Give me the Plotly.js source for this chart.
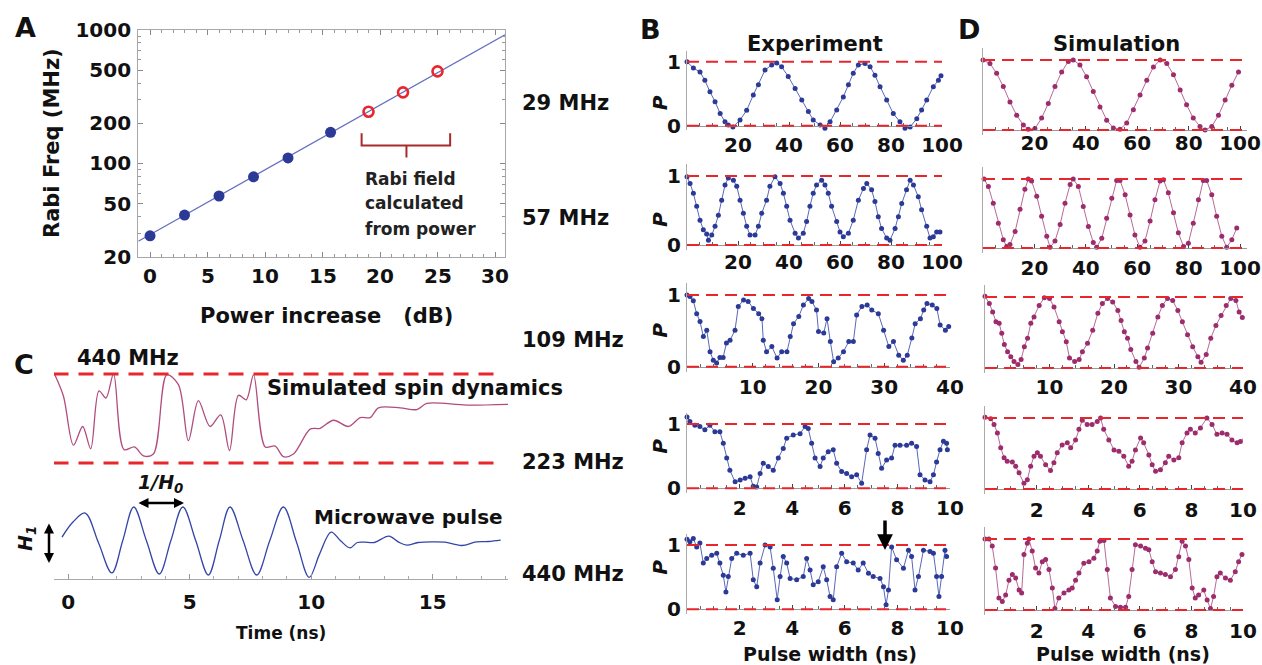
<!DOCTYPE html>
<html><head><meta charset="utf-8">
<script src="https://cdn.plot.ly/plotly-3.0.1.min.js"></script>
<style>html,body{margin:0;padding:0;background:#fff;}#chart{width:1262px;height:665px;}</style>
</head><body><div id="chart"></div>
<script>
// ---------- Panel A data ----------
const measPower = [0, 3, 6, 9, 12, 15.7];
const measRabi = [28.7, 41, 57, 79.4, 110, 171];
const calcPower = [19, 22, 25];
const calcRabi = [244, 341, 490];
const fitPower = [-1.02, 30.87];
const fitRabi = [26.1, 922];
const bracePower = [18.4, 18.4, 22.3, 22.3, 22.3, 26.1, 26.1];
const braceRabi = [168, 136, 136, 111, 136, 136, 168];
const aXTicks = [0, 5, 10, 15, 20, 25, 30];
const aYTicks = [20, 50, 100, 200, 500, 1000];
const aYMinor = [30, 40, 60, 70, 80, 90, 300, 400, 600, 700, 800, 900];
const rabiLabels = ['29 MHz', '57 MHz', '109 MHz', '223 MHz', '440 MHz'];

// ---------- Panel C data ----------
const spinT = [-0.56,-0.19,0.22,0.6,0.93,1.27,1.56,1.87,2.3,2.73,3.1,3.51,4.06,4.54,4.95,5.36,5.84,6.28,6.64,7.01,7.33,7.63,8.11,8.52,8.86,9.27,9.96,10.37,10.92,11.54,12.02,12.43,12.77,13.66,14.35,14.76,16.4,18.19];
const spinP = [1.0,0.75,0.2,0.41,0.16,0.81,0.73,1.0,0.15,0.18,0.08,0.1,0.99,0.88,0.25,0.70,0.41,0.54,0.14,0.76,0.71,0.99,0.18,0.19,0.07,0.1,0.38,0.39,0.48,0.41,0.51,0.51,0.62,0.62,0.6,0.67,0.65,0.66];
const pulseT = [-0.25,0.2,0.7,1.25,1.8,2.25,2.7,3.22,3.75,4.23,4.72,5.25,5.77,6.22,6.66,7.2,7.76,8.3,8.86,9.4,9.92,10.35,10.82,11.2,11.6,11.9,12.2,12.6,13.2,13.6,13.94,14.4,15.0,15.5,16.2,16.8,17.3,17.8];
const pulseA = [0.1,0.55,0.82,-0.07,-0.97,0,1,0,-1,0,1,0,-1.03,0,1,0,-1.03,0,1,-0.05,-1.1,-0.4,0.25,0,-0.22,-0.06,-0.05,-0.06,0.13,-0.05,-0.14,-0.06,-0.04,-0.05,-0.15,-0.04,-0.03,0.01];
const cTicks = [0, 5, 10, 15];

// ---------- Panel B (experiment) data ----------
const expX1 = [0,2.5,5.1,7,9,11,13,14.9,16.2,18,20.8,23.4,26,28,30.6,33.2,35.2,37.1,39.7,42.4,45,47.6,49.5,52.2,54.1,56.1,58.7,61.3,63.3,65.2,67.2,69.8,71.8,73.7,75.7,78.3,80.9,83.5,85.5,87.5,90.1,92,94,96.6,98.6,99.6];
const expP1 = [1.0,0.9,0.84,0.71,0.53,0.375,0.19,0.06,0.01,-0.02,0.09,0.24,0.48,0.64,0.87,0.95,0.98,0.92,0.77,0.58,0.4,0.22,0.09,0.01,-0.04,0.06,0.245,0.45,0.64,0.82,0.95,0.97,0.92,0.79,0.61,0.4,0.19,0.06,-0.04,-0.02,0.11,0.245,0.4,0.61,0.71,0.78];
const expX2 = [0,1.2,2.5,3.8,5.1,6.4,7.7,8.4,9.7,11,12.3,13.6,14.9,16.2,18.2,19.5,20.8,22.1,23.4,24.7,26.7,28,29.3,31.2,32.5,34.5,36.5,37.8,39.1,40.4,42.4,43.7,45.6,46.9,48.2,49.5,50.8,52.8,54.1,55.4,56.7,58.7,60,61.3,63.3,65.2,67.2,69.2,70.5,72.4,73.7,75,76.3,78.3,79.6,81.6,82.9,84.2,86.1,87.5,88.8,90.7,92,94,95.3,96.6,97.9,99.2];
const expP2 = [0.99,0.89,0.75,0.56,0.36,0.22,0.16,0.07,0.145,0.27,0.43,0.65,0.87,0.97,0.94,0.85,0.65,0.46,0.27,0.145,0.145,0.27,0.46,0.65,0.85,0.99,0.89,0.75,0.56,0.36,0.17,0.1,0.17,0.34,0.56,0.75,0.87,0.94,0.87,0.75,0.56,0.34,0.19,0.12,0.17,0.36,0.65,0.82,0.89,0.8,0.63,0.41,0.24,0.1,0.07,0.24,0.41,0.6,0.8,0.94,0.87,0.7,0.51,0.27,0.1,0.12,0.19,0.19];
const expX3 = [0,0.46,0.96,1.47,1.98,2.49,3.0,3.5,4.0,4.5,5.0,5.5,6.0,6.55,7.3,7.8,8.6,9.3,10.1,10.9,11.4,11.6,12.1,12.9,13.7,14.4,15.2,15.7,16.2,17,17.7,18.5,19,19.7,20,20.8,21.3,21.8,22.3,23,23.8,24.6,25.3,25.8,26.6,27.4,28.1,29.1,29.9,30.7,31.4,32.2,32.9,33.5,34.2,34.7,35.5,36,36.5,37.3,38,38.5,39.3,39.8];
const expP3 = [1.0,0.98,0.92,0.74,0.63,0.42,0.51,0.21,0.09,0.05,0.13,0.13,0.33,0.37,0.51,0.84,0.93,0.91,0.81,0.74,0.67,0.37,0.21,0.28,0.12,0.21,0.21,0.42,0.6,0.7,0.86,0.95,0.91,0.79,0.49,0.47,0.67,0.35,0.07,0.12,0.21,0.35,0.35,0.72,0.84,0.86,0.79,0.74,0.51,0.28,0.35,0.16,0.09,0.16,0.4,0.6,0.67,0.79,0.88,0.86,0.81,0.58,0.51,0.56];
const expX4 = [0,0.11,0.3,0.49,0.68,0.87,1.06,1.25,1.38,1.51,1.63,1.83,2.02,2.21,2.4,2.52,2.65,2.78,2.9,3.09,3.28,3.47,3.66,3.79,4.04,4.3,4.49,4.61,4.74,4.87,5.06,5.18,5.37,5.56,5.69,5.88,6.07,6.26,6.45,6.64,6.83,6.96,7.15,7.27,7.4,7.59,7.78,7.91,8.1,8.35,8.54,8.73,8.86,9.05,9.24,9.37,9.49,9.62,9.75,9.87,9.9];
const expP4 = [1.11,1.04,0.98,0.96,0.91,0.98,0.88,0.88,0.7,0.47,0.28,0.1,0.13,0.155,0.18,0.03,0.02,0.23,0.39,0.34,0.28,0.47,0.62,0.78,0.83,0.85,0.96,0.93,0.7,0.47,0.34,0.47,0.57,0.6,0.39,0.26,0.23,0.18,0.21,0.08,0.6,0.83,0.78,0.54,0.31,0.44,0.47,0.67,0.67,0.67,0.7,0.65,0.21,0.13,0.1,0.21,0.41,0.6,0.73,0.7,0.6];
const expX5 = [0,0.11,0.24,0.37,0.49,0.62,0.75,0.94,1.13,1.25,1.38,1.48,1.57,1.7,1.89,2.14,2.4,2.52,2.65,2.78,2.97,3.16,3.28,3.43,3.54,3.66,3.79,3.92,4.17,4.42,4.55,4.68,4.8,4.99,5.18,5.31,5.44,5.56,5.69,5.88,6.07,6.32,6.51,6.7,6.9,7.08,7.34,7.47,7.57,7.66,7.78,7.97,8.23,8.42,8.54,8.67,8.8,8.99,9.24,9.37,9.49,9.58,9.68,9.81,9.87];
const expP5 = [1.09,1.05,1.1,0.97,1.03,0.72,0.79,0.84,0.87,0.72,0.53,0.27,0.51,0.79,0.87,0.84,0.87,0.46,0.35,0.72,1.0,0.97,0.64,0.15,0.51,0.82,0.72,0.48,0.46,0.51,0.79,0.61,0.38,0.43,0.66,0.46,0.2,0.15,0.66,0.87,0.74,0.72,0.61,0.72,0.56,0.51,0.48,0.35,0.07,0.3,0.97,0.77,0.64,0.92,0.82,0.3,0.51,0.92,0.9,0.87,0.51,0.2,0.51,0.92,0.82];

// ---------- Panel D (simulation) data ----------
const simX1 = [0,2.7,5.3,7.9,10.5,13.1,15.7,17.6,20.2,22.8,25.4,28,30.6,33.2,35.1,37.7,40.3,42.9,45.5,48.1,50.7,53.3,55.9,58.5,61.1,63.7,66.3,68.9,71.5,74.1,76.7,79.2,81.8,84.4,86.4,89,91.6,94.2,96.8,99.4];
const simP1 = [1.0,0.95,0.81,0.62,0.4,0.21,0.07,0.01,0.02,0.17,0.38,0.62,0.83,0.98,1.0,0.93,0.76,0.55,0.33,0.14,0.03,0.01,0.1,0.29,0.5,0.71,0.9,1.0,0.95,0.79,0.57,0.36,0.17,0.05,0.0,0.05,0.21,0.43,0.64,0.83];
const simX2 = [0.4,2.1,4,5.97,7.9,9.2,10.5,12.5,14.4,16.3,17.6,18.9,20.9,22.8,24.8,26.1,28,30,31.9,33.9,35.1,37.1,39,41,42.9,44.2,46.2,48.1,50.1,52,53.3,55.3,57.2,59.1,61.1,63,65,66.9,68.9,70.2,72.1,74.1,76,78,79.9,81.8,83.8,85.7,87,89,90.9,92.9,94.8,96.8,98.7];
const simP2 = [1.0,0.89,0.65,0.36,0.12,0.02,0.05,0.24,0.56,0.85,1.0,0.97,0.75,0.46,0.17,0.01,0.1,0.34,0.65,0.92,1.0,0.89,0.6,0.31,0.08,0.01,0.14,0.43,0.72,0.98,0.98,0.77,0.48,0.19,0.01,0.1,0.39,0.7,0.97,0.99,0.8,0.51,0.22,0.02,0.07,0.36,0.7,0.98,0.98,0.77,0.46,0.17,0.01,0.12,0.29];
const simX3 = [0,0.67,1.19,1.7,2.2,2.6,3.0,3.5,4.0,4.5,5.1,5.6,6.1,6.6,7.1,7.6,8.4,9.2,10,10.7,11.5,12,12.6,13.1,13.9,14.6,15.1,15.9,16.7,17.5,18.2,19,19.8,20.6,21.1,21.6,22.1,22.6,23.4,23.9,24.7,25.2,26,26.8,27.5,28.3,29.1,29.9,30.6,31.4,32.2,33,33.5,34.3,35,35.8,36.6,37.4,38.1,38.9,39.4,39.9];
const simP3 = [1.01,0.91,0.79,0.65,0.63,0.49,0.33,0.23,0.16,0.09,0.05,0.12,0.3,0.42,0.63,0.72,0.88,0.99,0.98,0.86,0.65,0.51,0.37,0.14,0.09,0.12,0.23,0.35,0.53,0.77,0.91,0.98,0.93,0.81,0.67,0.51,0.42,0.26,0.09,0.01,0.14,0.28,0.49,0.72,0.88,0.98,0.95,0.81,0.65,0.47,0.3,0.16,0.08,0.19,0.42,0.6,0.74,0.88,0.98,0.95,0.79,0.71];
const simX4 = [0,0.22,0.35,0.48,0.61,0.74,0.86,1.06,1.19,1.32,1.51,1.64,1.77,1.9,2.03,2.15,2.35,2.54,2.67,2.8,2.99,3.19,3.32,3.51,3.64,3.77,3.96,4.15,4.35,4.48,4.6,4.8,5.0,5.19,5.38,5.57,5.7,5.83,6.03,6.15,6.35,6.48,6.61,6.8,6.99,7.12,7.32,7.51,7.64,7.83,7.96,8.15,8.35,8.6,8.8,8.99,9.19,9.38,9.57,9.77,9.9,10.03];
const simP4 = [1.01,0.99,0.91,0.79,0.58,0.44,0.39,0.38,0.32,0.23,0.08,0.13,0.32,0.46,0.51,0.46,0.34,0.26,0.37,0.51,0.62,0.65,0.58,0.69,0.84,0.97,0.91,0.91,0.95,1.0,0.84,0.69,0.55,0.53,0.46,0.32,0.39,0.55,0.72,0.65,0.48,0.34,0.25,0.27,0.37,0.46,0.41,0.44,0.65,0.79,0.84,0.79,0.86,1.0,0.91,0.77,0.79,0.77,0.69,0.65,0.67,0.72];
const simX5 = [0,0.15,0.28,0.41,0.54,0.67,0.8,0.93,1.06,1.19,1.32,1.42,1.51,1.64,1.7,1.83,1.96,2.09,2.22,2.35,2.48,2.61,2.71,2.86,3.06,3.25,3.38,3.51,3.64,3.83,4.03,4.22,4.35,4.45,4.61,4.74,4.86,5.06,5.25,5.45,5.57,5.7,5.83,6.03,6.22,6.35,6.48,6.61,6.8,6.99,7.19,7.38,7.51,7.64,7.77,7.9,8.03,8.15,8.28,8.48,8.61,8.74,8.86,8.99,9.12,9.32,9.51,9.7,9.83,9.96];
const simP5 = [1.0,1.0,0.9,0.59,0.17,0.12,0.21,0.42,0.5,0.45,0.28,0.24,0.78,0.94,1.0,0.83,0.59,0.52,0.68,0.71,0.57,0.31,0.02,0.17,0.24,0.28,0.31,0.42,0.52,0.66,0.68,0.73,0.83,0.97,0.98,0.57,0.17,0.05,0.04,0.04,0.19,0.57,0.92,0.9,0.87,0.85,0.68,0.54,0.52,0.5,0.47,0.57,0.75,0.97,0.9,0.71,0.31,0.17,0.21,0.28,0.14,0.02,0.19,0.47,0.52,0.45,0.42,0.54,0.68,0.78];
const refLevels = [0, 1];
const ticks100 = [20, 40, 60, 80, 100];
const ticks40 = [10, 20, 30, 40];
const ticks10 = [2, 4, 6, 8, 10];

// ---------- layout helpers ----------
const W = 1262, H = 665;
const fx = px => px / W;
const fy = py => 1 - py / H;
const F = 'DejaVu Sans, Arial, sans-serif';
const tf = (size, extra) => Object.assign({family: F, size: size, color: '#111', weight: 'bold'}, extra || {});

const BLUE = '#2b3a96', BLUE_L = '#5a67b8';
const MAG = '#9c2c6c', MAG_L = '#b86a95';
const RED = '#e8262c';

const traces = [];
const layout = {
  width: W, height: H, margin: {l: 0, r: 0, t: 0, b: 0, pad: 0},
  paper_bgcolor: '#fff', plot_bgcolor: 'rgba(0,0,0,0)', showlegend: false,
  font: {family: F}, annotations: [], shapes: []
};

// ---------- Panel A ----------
layout.xaxis = {
  domain: [fx(138.3), fx(505)], range: [-1.02, 30.87], anchor: 'y',
  showline: true, mirror: 'ticks', linecolor: '#a8a8a8', linewidth: 1.2,
  ticks: 'inside', ticklen: 5, tickcolor: '#888', tickvals: aXTicks, showticklabels: false,
  minor: {ticks: 'inside', ticklen: 3, dtick: 1, tick0: 0, tickcolor: '#999'},
  showgrid: false, zeroline: false
};
layout.yaxis = {
  domain: [fy(256.7), fy(30)], type: 'log', range: [Math.log10(20), 3], anchor: 'x',
  showline: true, mirror: 'ticks', linecolor: '#a8a8a8', linewidth: 1.2,
  ticks: 'inside', ticklen: 5, tickcolor: '#888',
  tickvals: aYTicks, ticktext: aYTicks.map(String), tickfont: tf(20), ticklabelstandoff: 2,
  minor: {ticks: 'inside', ticklen: 3, tickvals: aYMinor, tickcolor: '#999'},
  showgrid: false, zeroline: false
};
// x tick labels of panel A, placed on the x data scale
aXTicks.forEach(v => layout.annotations.push({text: String(v), x: v, xref: 'x', y: fy(276), yref: 'paper',
  showarrow: false, xanchor: 'center', yanchor: 'middle', font: tf(20)}));
traces.push({type: 'scatter', mode: 'lines', x: fitPower, y: fitRabi, xaxis: 'x', yaxis: 'y',
  line: {color: '#6470c4', width: 1.3}, hoverinfo: 'skip'});
traces.push({type: 'scatter', mode: 'markers', x: measPower, y: measRabi, xaxis: 'x', yaxis: 'y',
  marker: {size: 11, color: BLUE}});
traces.push({type: 'scatter', mode: 'markers', x: calcPower, y: calcRabi, xaxis: 'x', yaxis: 'y',
  marker: {size: 10, symbol: 'circle-open', color: RED, line: {width: 2.6, color: RED}}});
traces.push({type: 'scatter', mode: 'lines', x: bracePower, y: braceRabi, xaxis: 'x', yaxis: 'y',
  line: {color: '#a92a2a', width: 2}, hoverinfo: 'skip'});

// ---------- Panel C ----------
layout.xaxis2 = {
  domain: [fx(54), fx(508)], range: [-0.58, 18.1], anchor: 'y2',
  showline: true, linecolor: '#a8a8a8', linewidth: 1.2,
  ticks: 'inside', ticklen: 5, tickcolor: '#999', tickvals: cTicks,
  tickfont: tf(20), ticklabelstandoff: 5,
  minor: {ticks: 'inside', ticklen: 3, dtick: 1, tick0: 0, tickcolor: '#aaa'},
  showgrid: false, zeroline: false
};
layout.yaxis2 = {domain: [fy(579), fy(495)], range: [-1.15, 1.358], anchor: 'x2',
  showline: false, showticklabels: false, ticks: '', showgrid: false, zeroline: false};
layout.yaxis3 = {domain: [fy(470), fy(360)], range: [-0.079, 1.157], anchor: 'x2',
  showline: false, showticklabels: false, ticks: '', showgrid: false, zeroline: false};
refLevels.forEach(l => layout.shapes.push({type: 'line', xref: 'x2', yref: 'y3',
  x0: -0.6, x1: 17.9, y0: l, y1: l, line: {color: RED, width: 3, dash: '15px,10px'}}));
traces.push({type: 'scatter', mode: 'lines', x: spinT, y: spinP, xaxis: 'x2', yaxis: 'y3',
  line: {color: '#b04d7d', width: 1.3, shape: 'spline', smoothing: 0.9}, cliponaxis: false});
traces.push({type: 'scatter', mode: 'lines', x: pulseT, y: pulseA, xaxis: 'x2', yaxis: 'y2',
  line: {color: '#3444a8', width: 1.3, shape: 'spline', smoothing: 1}});

// ---------- small P panels ----------
function addPanel(n, box, xs, ys, mc, lc, tickvals, minorDt, showY) {
  const yr = [-0.07, 1.17];
  const unit = box.p0 - box.p1;
  const topPx = box.p1 - (yr[1] - 1) * unit;
  const botPx = box.p0 + (0 - yr[0]) * unit;
  layout['xaxis' + n] = {
    domain: [fx(box.xl), fx(box.xr)], range: box.range, anchor: 'free', position: fy(box.p0),
    showline: true, linecolor: '#999', linewidth: 1, ticks: 'inside', ticklen: 4, tickcolor: '#444',
    tickvals: tickvals, ticktext: tickvals.map(String), tickfont: tf(20), ticklabelstandoff: box.so,
    minor: {ticks: 'inside', ticklen: 3, dtick: minorDt, tick0: 0, tickcolor: '#666'},
    showgrid: false, zeroline: false
  };
  layout['yaxis' + n] = {
    domain: [fy(botPx), fy(topPx)], range: yr, anchor: 'x' + n,
    showline: true, linecolor: '#aaa', linewidth: 1, ticks: '',
    tickvals: showY ? refLevels : [], ticktext: showY ? refLevels.map(String) : [],
    showticklabels: !!showY, tickfont: tf(20), ticklabelstandoff: 1,
    showgrid: false, zeroline: false
  };
  refLevels.forEach(l => layout.shapes.push({type: 'line', xref: 'x' + n, yref: 'y' + n,
    x0: box.range[0], x1: box.range[1], y0: l, y1: l, line: {color: RED, width: 2, dash: '12px,7px'}}));
  traces.push({type: 'scatter', mode: 'lines+markers', x: xs, y: ys, xaxis: 'x' + n, yaxis: 'y' + n,
    marker: {size: 5, color: mc}, line: {color: lc, width: 1}, cliponaxis: false});
  if (showY) {
    layout.annotations.push({text: '<i>P</i>', x: fx(660), y: fy((box.p0 + box.p1) / 2),
      xref: 'paper', yref: 'paper', showarrow: false, textangle: -90, font: tf(20)});
  }
}
const expBoxes = [
  {xl: 687, xr: 942, range: [0, 100], p0: 125.7, p1: 61.7, so: 1},
  {xl: 687, xr: 942, range: [0, 100], p0: 245, p1: 176, so: -1},
  {xl: 687, xr: 950, range: [0, 40], p0: 366.7, p1: 295, so: 2},
  {xl: 687, xr: 950, range: [0, 10], p0: 488.3, p1: 424, so: 2},
  {xl: 687, xr: 950, range: [0, 10], p0: 609.3, p1: 545, so: 1}
];
const simBoxes = [
  {xl: 983, xr: 1247, range: [0, 102.7], p0: 130, p1: 60, so: -5},
  {xl: 983, xr: 1247, range: [0, 102.7], p0: 248, p1: 179, so: 2},
  {xl: 985, xr: 1243, range: [0, 40], p0: 368, p1: 297, so: 1},
  {xl: 985, xr: 1243, range: [0, 10], p0: 489, p1: 418, so: 3},
  {xl: 985, xr: 1243, range: [0, 10], p0: 610, p1: 539, so: 3}
];
const expXs = [expX1, expX2, expX3, expX4, expX5], expPs = [expP1, expP2, expP3, expP4, expP5];
const simXs = [simX1, simX2, simX3, simX4, simX5], simPs = [simP1, simP2, simP3, simP4, simP5];
const tickSets = [ticks100, ticks100, ticks40, ticks10, ticks10];
const minorDts = [5, 5, 2, 0.5, 0.5];
for (let i = 0; i < 5; i++) {
  addPanel(4 + i, expBoxes[i], expXs[i], expPs[i], BLUE, BLUE_L, tickSets[i], minorDts[i], true);
  addPanel(9 + i, simBoxes[i], simXs[i], simPs[i], MAG, MAG_L, tickSets[i], minorDts[i], false);
}

// ---------- text annotations ----------
function ann(text, xpx, ypx, size, opts) {
  layout.annotations.push(Object.assign({text: text, x: fx(xpx), y: fy(ypx), xref: 'paper', yref: 'paper',
    showarrow: false, xanchor: 'center', yanchor: 'middle', font: tf(size)}, opts || {}));
}
ann('A', 25, 27, 27);
ann('B', 650, 29, 27);
ann('C', 24, 364, 27);
ann('D', 969, 29, 27);
ann('Experiment', 815, 44, 21);
ann('Simulation', 1116, 44, 21);
ann('Rabi Freq (MHz)', 52, 143, 21, {textangle: -90});
ann('Power increase\u00a0\u00a0\u00a0(dB)', 326, 316, 21);
ann('Rabi field', 363, 179, 17, {xanchor: 'left', font: tf(17, {color: '#222'})});
ann('calculated', 363, 203, 17, {xanchor: 'left', font: tf(17, {color: '#222'})});
ann('from power', 363, 229, 17, {xanchor: 'left', font: tf(17, {color: '#222'})});
const labelY = [103, 218, 340, 462, 574];
rabiLabels.forEach((t, i) => ann(t, 520, labelY[i], 21, {xanchor: 'left'}));
ann('440 MHz', 128, 358, 21);
ann('Simulated spin dynamics', 265, 388, 21, {xanchor: 'left'});
ann('Microwave pulse', 312, 517, 20, {xanchor: 'left'});
ann('<i>1/H<sub>0</sub></i>', 160, 483, 19);
ann('<i>H<sub>1</sub></i>', 26, 539, 19, {textangle: -90});
ann('Time (ns)', 281, 633, 17);
ann('Pulse width (ns)', 830, 654, 19);
ann('Pulse width (ns)', 1123, 654, 19);

// arrows
layout.annotations.push({text: ' ', x: fx(184), y: fy(503), xref: 'paper', yref: 'paper',
  showarrow: true, ax: -49, ay: 0, arrowside: 'end+start', arrowhead: 2, arrowsize: 0.8, arrowwidth: 2.5, arrowcolor: '#000'});
layout.annotations.push({text: ' ', x: fx(49), y: fy(563), xref: 'paper', yref: 'paper',
  showarrow: true, ax: 0, ay: -48, arrowside: 'end+start', arrowhead: 2, arrowsize: 0.8, arrowwidth: 2.5, arrowcolor: '#000'});
layout.annotations.push({text: ' ', x: fx(885), y: fy(550), xref: 'paper', yref: 'paper',
  showarrow: true, ax: 0, ay: -38, arrowhead: 2, arrowsize: 0.9, arrowwidth: 3.5, arrowcolor: '#000'});

Plotly.newPlot('chart', traces, layout, {staticPlot: true, displayModeBar: false});
</script>
</body></html>
